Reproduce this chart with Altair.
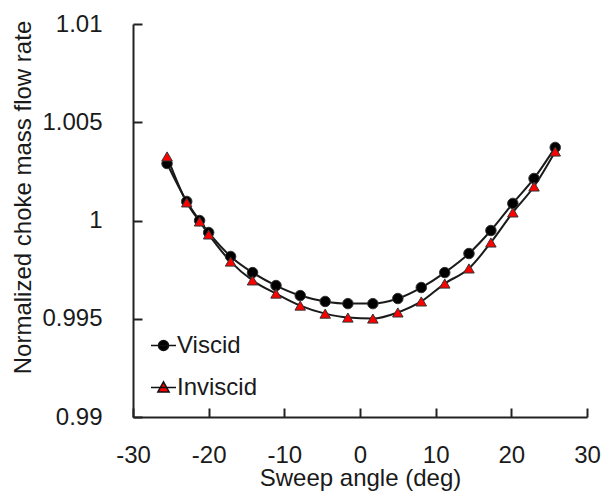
import altair as alt
import pandas as pd

# ---- data ----
series_names = ["Viscid", "Inviscid"]
angles = [-25.5, -22.9, -21.2, -20.0, -17.1, -14.2, -11.1, -7.9, -4.6, -1.6,
          1.7, 5.0, 8.1, 11.2, 14.4, 17.3, 20.2, 23.0, 25.8]
viscid = [1.0029, 1.00097, 1.0000, 0.99939, 0.99817, 0.99735, 0.99669, 0.99618,
          0.99588, 0.99577, 0.99577, 0.99603, 0.99659, 0.99735, 0.99832, 0.99949,
          1.00087, 1.00214, 1.00372]
inviscid = [1.00326, 1.00092, 0.99995, 0.99929, 0.99791, 0.99695, 0.99628, 0.99567,
            0.99526, 0.99506, 0.99501, 0.99532, 0.99588, 0.99679, 0.99756, 0.99888,
            1.00041, 1.00173, 1.00351]
x_ticks = [-30, -20, -10, 0, 10, 20, 30]
y_ticks = [0.99, 0.995, 1.0, 1.005, 1.01]
x_title = "Sweep angle (deg)"
y_title = "Normalized choke mass flow rate"

rows = []
for name, vals in zip(series_names, [viscid, inviscid]):
    for a, v in zip(angles, vals):
        rows.append({"series": name, "angle": a, "flow": v})
df = pd.DataFrame(rows)

FONT = "Liberation Sans"
TXT = "#1a1a1a"
AX = "#222222"
W, H = 454, 393

xscale = alt.Scale(domain=[-30, 30], nice=False, zero=False)
yscale = alt.Scale(domain=[0.99, 1.01], nice=False, zero=False)

base = alt.Chart(df)

lines = base.mark_line(interpolate="monotone", color="#1a1a1a", strokeWidth=2).encode(
    x=alt.X("angle:Q", scale=xscale,
            axis=alt.Axis(values=x_ticks, title=x_title, ticks=False, tickSize=0,
                          labelExpr="'' + datum.value",
                          labelPadding=26, labelFlush=False, domainColor=AX, domainWidth=2,
                          grid=False, labelFont=FONT, labelFontSize=24, labelColor=TXT,
                          titleFont=FONT, titleFontSize=24, titleColor=TXT,
                          titleFontWeight="normal", titleY=68, titleBaseline="alphabetic")),
    y=alt.Y("flow:Q", scale=yscale,
            axis=alt.Axis(values=y_ticks, labelExpr="'' + datum.value", title=y_title,
                          ticks=False, tickSize=0,
                          labelPadding=31, labelFlush=False, domainColor=AX, domainWidth=2,
                          grid=False, labelFont=FONT, labelFontSize=24, labelColor=TXT,
                          titleFont=FONT, titleFontSize=24, titleColor=TXT,
                          titleFontWeight="normal", titleX=-110, titleY=173,
                          titleBaseline="middle")),
    detail="series:N",
)

points = base.mark_point(filled=True, size=110, opacity=1, stroke="#333333", strokeWidth=1).encode(
    x=alt.X("angle:Q", scale=xscale,
            axis=alt.Axis(orient="top", offset=-H, values=x_ticks, labels=False, domain=False,
                          ticks=True, tickSize=9, tickWidth=2, tickColor=AX, grid=False, title=None)),
    y=alt.Y("flow:Q", scale=yscale,
            axis=alt.Axis(orient="right", offset=-W, values=y_ticks, labels=False, domain=False,
                          ticks=True, tickSize=9, tickWidth=2, tickColor=AX, grid=False, title=None)),
    shape=alt.Shape("series:N", scale=alt.Scale(domain=series_names, range=["circle", "triangle-up"]),
                    legend=None),
    color=alt.Color("series:N", scale=alt.Scale(domain=series_names, range=["#000000", "#ff0000"]),
                    legend=None),
)

circ_path = "M-1,0L1,0M-0.4,0A0.4,0.4,0,1,1,0.4,0A0.4,0.4,0,1,1,-0.4,0Z"
tri_path = "M-1,0L1,0M0,-0.45L0.45,0.35L-0.45,0.35Z"

leg = alt.Legend(orient="none", legendX=17, legendY=308, title=None, padding=0,
                 labelFont=FONT, labelFontSize=24, labelColor=TXT, labelOffset=0,
                 rowPadding=16, symbolSize=625, symbolStrokeWidth=1.5, symbolOpacity=1)

legend_layer = base.transform_filter("false").mark_point(
    filled=False, size=625, strokeWidth=1.5, opacity=1
).encode(
    shape=alt.Shape("series:N", scale=alt.Scale(domain=series_names, range=[circ_path, tri_path]),
                    legend=leg),
    fill=alt.Fill("series:N", scale=alt.Scale(domain=series_names, range=["#000000", "#ff0000"]),
                  legend=leg),
    stroke=alt.Stroke("series:N", scale=alt.Scale(domain=series_names, range=["#111111", "#111111"]),
                      legend=leg),
)

chart = alt.layer(lines, points, legend_layer).resolve_scale(
    shape="independent", color="independent", fill="independent", stroke="independent"
).resolve_axis(
    x="independent", y="independent"
).properties(
    width=W, height=H,
    padding={"left": 133, "top": 24, "right": 15, "bottom": 77},
    autosize=alt.AutoSizeParams(type="none"),
).configure_view(stroke=None)

chart.save("out.html", embed_options={"renderer": "svg", "actions": False})
